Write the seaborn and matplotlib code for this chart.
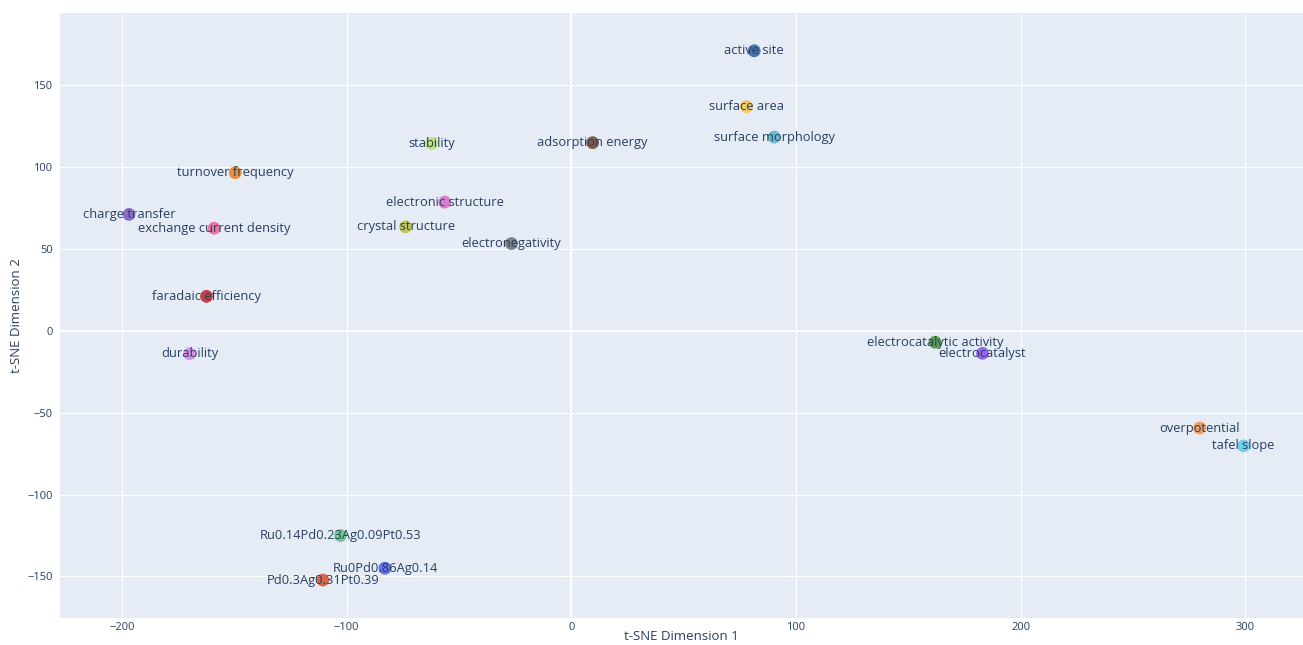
import matplotlib
matplotlib.use("Agg")
import matplotlib.pyplot as plt
import seaborn as sns
import pandas as pd

# t-SNE embedding of catalysis terms and alloy compositions
terms = [
    "active site", "surface area", "surface morphology", "adsorption energy",
    "stability", "turnover frequency", "electronic structure", "charge transfer",
    "exchange current density", "crystal structure", "electronegativity",
    "faradaic efficiency", "durability", "electrocatalytic activity",
    "electrocatalyst", "overpotential", "tafel slope",
    "Ru0.14Pd0.23Ag0.09Pt0.53", "Ru0Pd0.86Ag0.14", "Pd0.3Ag0.31Pt0.39",
]
dim1 = [81.4, 78.0, 90.3, 9.5, -62.2, -149.5, -56.3, -196.8, -158.9, -73.7,
        -26.6, -162.3, -169.8, 161.9, 183.0, 279.6, 299.2, -102.7, -82.9, -110.5]
dim2 = [170.9, 136.8, 118.2, 114.8, 114.3, 96.5, 78.5, 71.0, 62.6, 63.4,
        53.2, 21.0, -14.1, -7.0, -13.8, -59.4, -70.3, -125.0, -145.0, -152.2]
colors = [
    "#2f5fa3", "#f1c33e", "#4fb5c9", "#6e4433", "#b9e06c", "#e8801f",
    "#d56ac6", "#7a55c0", "#e9609a", "#b5c232", "#6c6e72", "#c0232b",
    "#dc80ec", "#3d8f2f", "#8a4cec", "#f0934a", "#5ec8ea",
    "#5bc17c", "#4a5ce6", "#d8502f",
]

df = pd.DataFrame({"term": terms, "x": dim1, "y": dim2})
palette = dict(zip(terms, colors))

sns.set_theme(style="darkgrid")
plt.rcParams["font.family"] = ["Open Sans", "DejaVu Sans"]
plt.rcParams["axes.unicode_minus"] = True

fig = plt.figure(figsize=(13.03, 6.45), dpi=100)
ax = fig.add_axes([0.0457, 0.0423, 0.9543, 0.9371])
ax.set_facecolor("#e5ecf6")

sns.scatterplot(data=df, x="x", y="y", hue="term", palette=palette,
                s=85, alpha=0.85, linewidth=0, legend=False, ax=ax, zorder=3)

text_color = "#2a3f5f"
for t, xv, yv in zip(terms, dim1, dim2):
    ax.text(xv, yv, t, ha="center", va="center", fontsize=9.3,
            color=text_color, zorder=4)

ax.set_xlim(-227.7, 325.6)
ax.set_ylim(-175.2, 193.8)
ax.set_xticks([-200, -100, 0, 100, 200, 300])
ax.set_yticks([-150, -100, -50, 0, 50, 100, 150])
ax.grid(True, color="white", linewidth=0.8)
ax.axhline(0, color="white", linewidth=1.2, zorder=1)
ax.axvline(0, color="white", linewidth=1.2, zorder=1)
ax.set_axisbelow(True)
for sp in ax.spines.values():
    sp.set_visible(False)
ax.tick_params(axis="x", length=0, labelsize=8, labelcolor=text_color, pad=3)
ax.tick_params(axis="y", length=0, labelsize=8, labelcolor=text_color, pad=5)

ax.set_xlabel("t-SNE Dimension 1", fontsize=9.5, color=text_color, labelpad=-2)
ax.set_ylabel("t-SNE Dimension 2", fontsize=9.5, color=text_color, labelpad=3)

fig.savefig("out.png", dpi=100, facecolor="white")
